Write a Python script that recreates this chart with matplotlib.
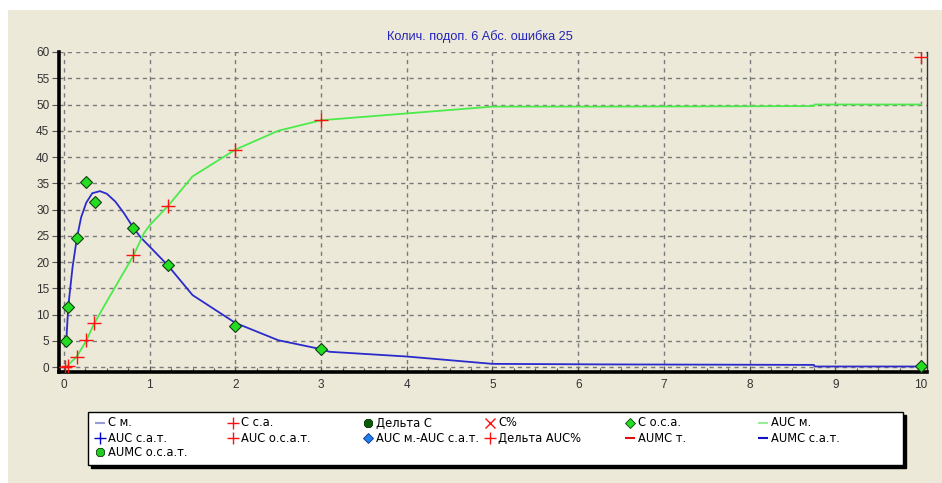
"""
==================
PK curve, C and AUC
==================

"""
import matplotlib.pyplot as plt
from matplotlib.lines import Line2D
from matplotlib.patches import Rectangle
from matplotlib.ticker import MultipleLocator

# fitted concentration curve (C м.)
t_fit = [0.02, 0.03, 0.05, 0.10, 0.15, 0.20, 0.26, 0.33, 0.42, 0.50, 0.60, 0.70, 0.81,
         0.90, 1.02, 1.21, 1.50, 2.00, 2.50, 3.00, 3.10, 4.00, 5.00, 6.25, 8.75, 8.76, 10.0]
c_fit = [4.5, 5.8, 11.5, 19.0, 24.5, 28.5, 31.3, 33.1, 33.5, 33.0, 31.5, 29.3, 26.5,
         24.6, 22.6, 19.4, 13.7, 8.4, 5.1, 3.4, 2.9, 2.0, 0.6, 0.5, 0.4, 0.1, 0.1]

# fitted AUC curve (AUC м.)
t_auc = [0.0, 0.03, 0.15, 0.26, 0.35, 0.50, 0.81, 0.93, 1.00, 1.21, 1.50, 2.00, 2.50,
         3.00, 4.00, 5.00, 6.25, 8.75, 8.76, 10.0]
auc_fit = [0.0, 0.1, 2.0, 5.0, 8.2, 12.5, 21.2, 25.4, 27.0, 30.6, 36.3, 41.4, 45.0,
           47.0, 48.3, 49.6, 49.6, 49.7, 50.0, 50.0]

# observed points
t_obs = [0.02, 0.05, 0.15, 0.26, 0.36, 0.81, 1.21, 2.0, 3.0, 10.0]
c_obs = [5.0, 11.4, 24.6, 35.3, 31.5, 26.5, 19.4, 7.8, 3.4, 0.2]
t_auc_obs = [0.01, 0.05, 0.15, 0.26, 0.35, 0.81, 1.21, 2.0, 3.0, 10.0]
auc_obs = [0.0, 0.1, 2.0, 5.1, 8.3, 21.3, 30.6, 41.4, 47.0, 59.0]

title = "Колич. подоп. 6 Абс. ошибка 25"

legend_labels = ["С м.", "С с.а.", "Дельта С", "С%", "С о.с.а.", "AUC м.",
                 "AUC с.а.т.", "AUC о.с.а.т.", "AUC м.-AUC с.а.т.", "Дельта AUC%",
                 "AUMC т.", "AUMC с.а.т.", "AUMC о.с.а.т."]

BG = "#ECE9D8"
BLUE = "#2B2BCC"
GREEN = "#4CEB4C"

plt.rcParams['font.family'] = ['Liberation Sans', 'DejaVu Sans']

W, H = 942, 483
fig = plt.figure(figsize=(W / 100, H / 100), dpi=100, facecolor="white")
fig.patches.append(Rectangle((8 / W, 0), 1, 1 - 10 / H, transform=fig.transFigure,
                             facecolor=BG, edgecolor="none", zorder=-10))

ax = fig.add_axes([59 / W, 1 - 372 / H, 868 / W, 320 / H])
ax.set_facecolor(BG)

ax.plot(t_fit, c_fit, color=BLUE, lw=1.3, zorder=3)
ax.plot(t_auc, auc_fit, color=GREEN, lw=1.3, zorder=3)
ax.plot(t_obs, c_obs, ls="none", marker="D", ms=6.5, mfc="#22DD22",
        mec="#104010", mew=0.8, zorder=5)
ax.plot(t_auc_obs, auc_obs, ls="none", marker="+", ms=10, mew=1.0,
        color="#FF1010", zorder=6)

ax.set_xlim(-0.058, 10.07)
ax.set_ylim(-0.95, 60.0)
ax.xaxis.set_major_locator(MultipleLocator(1))
ax.xaxis.set_minor_locator(MultipleLocator(0.25))
ax.yaxis.set_major_locator(MultipleLocator(5))
ax.grid(True, which="major", color="#7A7A7A", ls=(0, (3, 3)), lw=1.0, zorder=1)

for s in ("left", "bottom"):
    ax.spines[s].set_linewidth(2.6)
    ax.spines[s].set_color("black")
ax.spines["top"].set_visible(False)
ax.spines["right"].set_linewidth(1.0)
ax.spines["right"].set_color("#333333")

ax.tick_params(axis="x", which="both", direction="in", length=4, width=0.8,
               colors="#555555", labelcolor="#333333", labelsize=8.5, pad=5)
ax.tick_params(axis="x", which="minor", length=3)
ax.tick_params(axis="y", direction="out", length=5, width=0.8,
               colors="#555555", labelcolor="#333333", labelsize=8.5, pad=2)

fig.text(480 / W, 1 - 37 / H, title, color="#2222BB", fontsize=9.2,
         ha="center", va="center")

# legend box drawn by hand
def fx(x):
    return x / W

def fy(y):
    return 1 - y / H

fig.patches.append(Rectangle((fx(91), fy(468)), (903 - 88) / W, (465 - 412) / H,
                             transform=fig.transFigure, facecolor="black",
                             edgecolor="black", zorder=1))
fig.patches.append(Rectangle((fx(88), fy(465)), (903 - 88) / W, (465 - 412) / H,
                             transform=fig.transFigure, facecolor="white",
                             edgecolor="black", lw=1.0, zorder=2))

col_x = [100, 233, 368, 490, 630, 763]
row_y = [423, 438, 452]
styles = [
    dict(marker="_", color="#9A9ADA", ms=7.5, mew=1.5),
    dict(marker="+", color="#FF1010", ms=8, mew=1.0),
    dict(marker="8", color="#0A5A0A", ms=6, mew=0.6, mec="#003000"),
    dict(marker="x", color="#FF1010", ms=6.5, mew=1.0),
    dict(marker="D", color="#22DD22", ms=5, mew=0.6, mec="#104010"),
    dict(marker="_", color="#9AEE9A", ms=7.5, mew=1.5),
    dict(marker="+", color="#0000CC", ms=8, mew=1.0),
    dict(marker="+", color="#FF1010", ms=8, mew=1.0),
    dict(marker="D", color="#1E7FEF", ms=5, mew=0.6, mec="#103080"),
    dict(marker="+", color="#FF1010", ms=8, mew=1.0),
    dict(marker="_", color="#DD1010", ms=7.5, mew=1.5),
    dict(marker="_", color="#1010CC", ms=7.5, mew=1.5),
    dict(marker="8", color="#22CC22", ms=6, mew=0.6, mec="#104010"),
]
for i, (lab, st) in enumerate(zip(legend_labels, styles)):
    r, c = divmod(i, 6)
    x, y = col_x[c], row_y[r]
    fig.lines.append(Line2D([fx(x)], [fy(y)], transform=fig.transFigure,
                            ls="none", zorder=3, **st))
    fig.text(fx(x + 8), fy(y), lab, fontsize=8.3, color="black",
             family=["DejaVu Sans"], ha="left", va="center", zorder=3)

fig.savefig("out.png", dpi=100, facecolor=fig.get_facecolor())
